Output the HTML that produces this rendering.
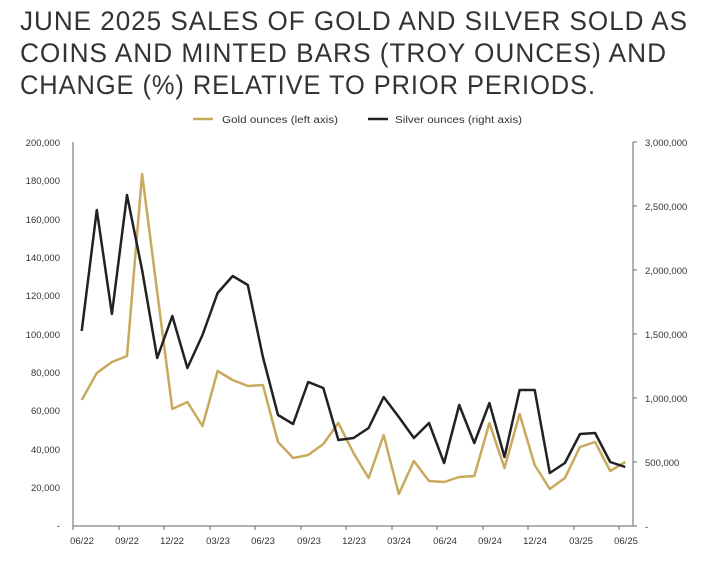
<!DOCTYPE html>
<html><head><meta charset="utf-8"><style>
html,body{margin:0;padding:0;background:#fff;}
svg{display:block;font-family:"Liberation Sans",sans-serif;}
</style></head><body>
<svg width="715" height="564" viewBox="0 0 715 564" xmlns="http://www.w3.org/2000/svg">
<g fill="#333" font-size="27" letter-spacing="1">
<text x="20" y="30" textLength="668" lengthAdjust="spacingAndGlyphs">JUNE 2025 SALES OF GOLD AND SILVER SOLD AS</text>
<text x="20" y="62" textLength="647" lengthAdjust="spacingAndGlyphs">COINS AND MINTED BARS (TROY OUNCES) AND</text>
<text x="20" y="94" textLength="576" lengthAdjust="spacingAndGlyphs">CHANGE (%) RELATIVE TO PRIOR PERIODS.</text>
</g>
<g font-size="10" fill="#333">
<line x1="193" y1="119" x2="213" y2="119" stroke="#c9a95c" stroke-width="2.5"/>
<text x="222" y="123" textLength="116" lengthAdjust="spacingAndGlyphs">Gold ounces (left axis)</text>
<line x1="368" y1="119" x2="388" y2="119" stroke="#222" stroke-width="2.5"/>
<text x="395" y="123" textLength="127" lengthAdjust="spacingAndGlyphs">Silver ounces (right axis)</text>
</g>
<g stroke="#666" stroke-width="1" fill="none">
<line x1="73" y1="142" x2="73" y2="526"/>
<line x1="73" y1="526" x2="633" y2="526"/>
<line x1="633" y1="142" x2="633" y2="526"/>
<path d="M73,526v4M119,526v4M164,526v4M210,526v4M255,526v4M301,526v4M346,526v4M392,526v4M437,526v4M483,526v4M528,526v4M574,526v4M619,526v4"/>
<path d="M633,142h4M633,206h4M633,270h4M633,334h4M633,398h4M633,462h4M633,526h4"/>
</g>
<g font-size="9.5" fill="#333" text-anchor="end">
<text x="60" y="146">200,000</text><text x="60" y="184">180,000</text><text x="60" y="223">160,000</text>
<text x="60" y="261">140,000</text><text x="60" y="299">120,000</text><text x="60" y="338">100,000</text>
<text x="60" y="376">80,000</text><text x="60" y="414">60,000</text><text x="60" y="453">40,000</text>
<text x="60" y="491">20,000</text><text x="60" y="529">-</text>
</g>
<g font-size="9.5" fill="#333">
<text x="645" y="146">3,000,000</text><text x="645" y="210">2,500,000</text><text x="645" y="274">2,000,000</text>
<text x="645" y="338">1,500,000</text><text x="645" y="402">1,000,000</text><text x="645" y="466">500,000</text>
<text x="645" y="530">-</text>
</g>
<g font-size="9.5" fill="#333" text-anchor="middle">
<text x="82" y="544">06/22</text><text x="127" y="544">09/22</text><text x="172" y="544">12/22</text>
<text x="218" y="544">03/23</text><text x="263" y="544">06/23</text><text x="309" y="544">09/23</text>
<text x="354" y="544">12/23</text><text x="399" y="544">03/24</text><text x="445" y="544">06/24</text>
<text x="490" y="544">09/24</text><text x="535" y="544">12/24</text><text x="581" y="544">03/25</text>
<text x="626" y="544">06/25</text>
</g>
<polyline fill="none" stroke="#c9a95c" stroke-width="2.5" stroke-linejoin="round" points="81.7,400 96.8,373 111.9,362 127,356 142.1,174 157.2,292 172.3,409 187.4,402 202.5,426 217.6,371 232.7,380 247.8,386 262.9,385 278,442 293.1,458 308.2,455 323.3,444 338.4,423 353.5,453 368.6,478 383.7,435 398.8,494 413.9,461 429,481 444.1,482 459.2,477 474.3,476 489.4,423 504.5,468 519.6,414 534.7,465 549.8,489 564.9,478 580,447 595.1,442 610.2,471 625.3,462"/>
<polyline fill="none" stroke="#222" stroke-width="2.5" stroke-linejoin="round" points="81.7,331 96.8,210 111.9,314 127,195 142.1,270 157.2,358 172.3,316 187.4,368 202.5,335 217.6,293 232.7,276 247.8,285 262.9,357 278,415 293.1,424 308.2,382 323.3,388 338.4,440 353.5,438 368.6,428 383.7,397 398.8,417 413.9,438 429,423 444.1,463 459.2,405 474.3,443 489.4,403 504.5,457 519.6,390 534.7,390 549.8,473 564.9,463 580,434 595.1,433 610.2,462 625.3,467"/>
</svg>
</body></html>
